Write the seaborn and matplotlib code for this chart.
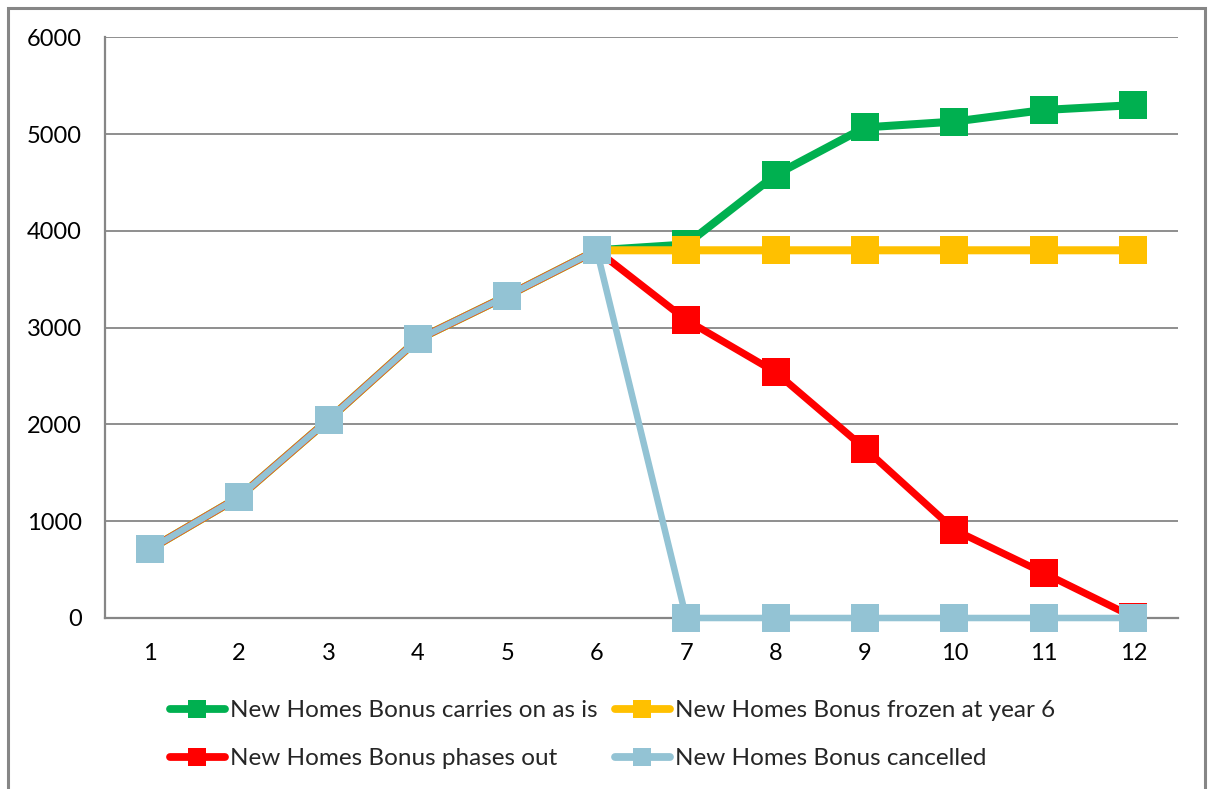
import matplotlib
matplotlib.use("Agg")
import matplotlib.pyplot as plt
from matplotlib.lines import Line2D
from matplotlib.patches import Rectangle
import seaborn as sns
import pandas as pd

# Scenario data: New Homes Bonus income by year
years = [1, 2, 3, 4, 5, 6, 7, 8, 9, 10, 11, 12]
carries_on = [710, 1250, 2050, 2880, 3330, 3800, 3860, 4580, 5070, 5130, 5250, 5300]
frozen = [710, 1250, 2050, 2880, 3330, 3800, 3800, 3800, 3800, 3800, 3800, 3800]
phases_out = [710, 1250, 2050, 2880, 3330, 3800, 3080, 2540, 1750, 910, 465, 10]
cancelled = [710, 1250, 2050, 2880, 3330, 3800, 0, 0, 0, 0, 0, 0]

series_names = [
    "New Homes Bonus carries on as is",
    "New Homes Bonus frozen at year 6",
    "New Homes Bonus phases out",
    "New Homes Bonus cancelled",
]
y_ticks = [0, 1000, 2000, 3000, 4000, 5000, 6000]

sns.set_theme(style="white")
plt.rcParams["font.family"] = ["Lato", "DejaVu Sans"]

GREY = "#868686"
FONT = 17
LEG_FONT = 17.5
colors = ["#00B050", "#FFC000", "#FF0000", "#93C3D4"]
widths = [5.8, 5.8, 5.2, 4.7]

df = pd.DataFrame({
    "year": years * 4,
    "value": carries_on + frozen + phases_out + cancelled,
    "scenario": sum([[n] * len(years) for n in series_names], []),
})

fig = plt.figure(figsize=(12.12, 7.89), dpi=100)
ax = fig.add_axes([105 / 1212, 171 / 789, 1073 / 1212, 580.6 / 789])

for name, col, lw in zip(series_names, colors, widths):
    sub = df[df["scenario"] == name]
    sns.lineplot(data=sub, x="year", y="value", ax=ax, color=col, linewidth=lw,
                 marker="s", markersize=19.5, markeredgewidth=0, legend=False,
                 sort=False, zorder=3, clip_on=False)

ax.set_xlim(0.5, 12.5)
ax.set_ylim(0, 6000)
ax.set_xlabel("")
ax.set_ylabel("")

ax.set_yticks(y_ticks)
ax.set_yticklabels([str(v) for v in y_ticks])
ax.yaxis.grid(True, color=GREY, linewidth=1.3)
ax.set_axisbelow(True)

ax.set_xticks(years)
ax.set_xticklabels([str(y) for y in years])
ax.set_xticks([x + 0.5 for x in range(0, 13)], minor=True)
ax.tick_params(axis="x", which="major", length=0, pad=18, labelsize=FONT, colors="black")
ax.tick_params(axis="x", which="minor", length=6.5, width=1.5, color=GREY, direction="out")
ax.tick_params(axis="y", which="major", length=6.5, width=1.5, color=GREY, direction="out",
               pad=10, labelsize=FONT, labelcolor="black")

for side in ["top", "right"]:
    ax.spines[side].set_visible(False)
for side in ["left", "bottom"]:
    ax.spines[side].set_color(GREY)
    ax.spines[side].set_linewidth(1.6)

# Legend split into two columns of two entries
handles = [Line2D([0], [0], color=c, linewidth=5.6, marker="s", markersize=12.5,
                  markeredgewidth=0, solid_capstyle="round")
           for c in colors]
leg_kw = dict(frameon=False, fontsize=LEG_FONT, handlelength=2.25, handletextpad=0.22,
              borderpad=0, borderaxespad=0, labelspacing=1.12, loc="upper left")
fig.legend([handles[0], handles[2]], [series_names[0], series_names[2]],
           bbox_to_anchor=(170 / 1212, 1 - 700 / 789), **leg_kw)
fig.legend([handles[1], handles[3]], [series_names[1], series_names[3]],
           bbox_to_anchor=(615 / 1212, 1 - 700 / 789), **leg_kw)

# Chart frame
fig.patches.append(Rectangle((8 / 1212, -0.05), 1197 / 1212, 1.05 - 8 / 789,
                             transform=fig.transFigure, fill=False,
                             edgecolor=GREY, linewidth=2.2))

fig.savefig("out.png", dpi=100)
